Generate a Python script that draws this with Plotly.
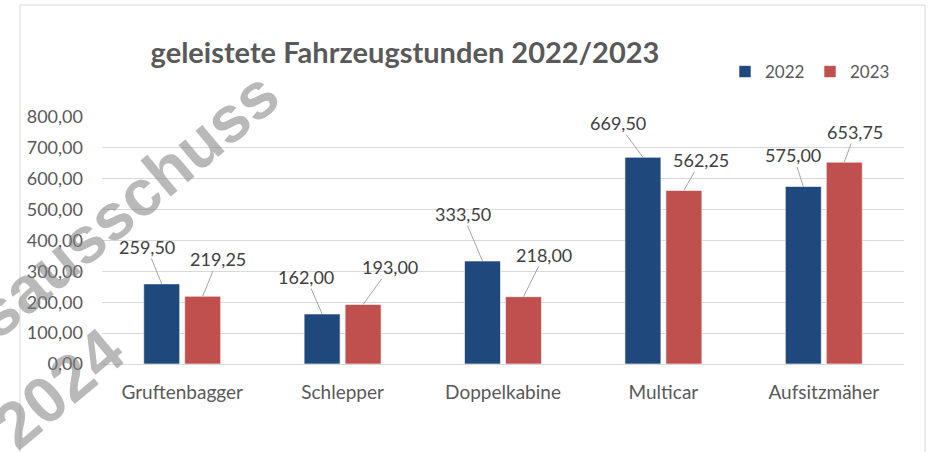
import plotly.graph_objects as go

categories = ["Gruftenbagger", "Schlepper", "Doppelkabine", "Multicar", "Aufsitzmäher"]
values_2022 = [259.50, 162.00, 333.50, 669.50, 575.00]
values_2023 = [219.25, 193.00, 218.00, 562.25, 653.75]
series_names = ["2022", "2023"]
y_ticks = [0, 100, 200, 300, 400, 500, 600, 700, 800]

# label offsets (pixels) for data labels with leader lines
offsets_2022 = [(-15, -37), (-16, -37), (-20, -47), (-25, -34), (-10, -31)]
offsets_2023 = [(15, -37), (27, -37), (21, -42), (17, -30), (11, -30)]

W, H = 932, 452
ML, MR, MT, MB = 102, 28, 117, 88
PW = W - ML - MR
PH = H - MT - MB

BLUE = "#1F497D"
RED = "#C0504D"
TXT = "#595959"
LBL = "#404040"
GRID = "#D9D9D9"
FONT = "Lato, 'Open Sans', sans-serif"

BARGAP = 0.489
GROUPGAP = 0.122

fig = go.Figure()
fig.add_trace(go.Bar(name=series_names[0], x=categories, y=values_2022,
                     marker=dict(color=BLUE, line=dict(color="white", width=0.6))))
fig.add_trace(go.Bar(name=series_names[1], x=categories, y=values_2023,
                     marker=dict(color=RED, line=dict(color="white", width=0.6))))


def de(v):
    return f"{v:.2f}".replace(".", ",")

slot = (1 - BARGAP) / 2
annotations = []
for k, (vals, offs) in enumerate([(values_2022, offsets_2022), (values_2023, offsets_2023)]):
    shift = (k - 0.5) * slot
    for i, v in enumerate(vals):
        annotations.append(dict(
            x=i + shift, y=v, xref="x", yref="y",
            text=de(v), showarrow=True, arrowhead=0, arrowwidth=1,
            arrowcolor="#A6A6A6", ax=offs[i][0], ay=offs[i][1],
            font=dict(family=FONT, size=18, color=LBL),
            borderpad=0, standoff=0,
        ))

# watermark
def px2paper(x, y):
    return (x - ML) / PW, (H - MB - y) / PH

for txt, (cx, cy) in [("sausschuss", (126, 204)), ("2024", (58, 388))]:
    px, py = px2paper(cx, cy)
    annotations.append(dict(
        x=px, y=py, xref="paper", yref="paper", text=txt, showarrow=False,
        textangle=-40, xanchor="center", yanchor="middle",
        font=dict(family="Liberation Sans, Arial, sans-serif", size=65,
                  color="rgba(128,128,128,0.55)", weight="bold"),
    ))

# chart border
bx0, by0 = px2paper(20, 5)
bx1, by1 = px2paper(925, 470)
shapes = [dict(type="rect", xref="paper", yref="paper", x0=bx0, y0=by1, x1=bx1, y1=by0,
               line=dict(color=GRID, width=1), fillcolor="rgba(0,0,0,0)", layer="below")]

fig.update_layout(
    width=W, height=H,
    margin=dict(l=ML, r=MR, t=MT, b=MB),
    paper_bgcolor="white", plot_bgcolor="white",
    separators=",.",
    barmode="group", bargap=BARGAP, bargroupgap=GROUPGAP,
    title=dict(text="<b>geleistete Fahrzeugstunden 2022/2023</b>",
               x=405 / W, xref="container", xanchor="center",
               y=1 - 53 / H, yref="container", yanchor="middle",
               font=dict(family=FONT, size=29, color=TXT)),
    legend=dict(orientation="h", x=(725 - ML) / PW, xanchor="left",
                y=(H - MB - 72) / PH, yanchor="middle",
                font=dict(family=FONT, size=17, color=TXT),
                entrywidth=40,
                bgcolor="rgba(0,0,0,0)"),
    annotations=annotations,
    shapes=shapes,
    showlegend=True,
)
fig.update_yaxes(range=[0, 800], tickvals=y_ticks, tickformat=".2f",
                 showgrid=True, gridcolor=GRID, gridwidth=1, zeroline=False,
                 showline=False, ticks="", ticklabelstandoff=18,
                 tickfont=dict(family=FONT, size=18, color=TXT))
fig.update_xaxes(showline=True, linecolor=GRID, linewidth=1, ticks="",
                 ticklabelstandoff=11,
                 tickfont=dict(family=FONT, size=19, color=TXT))

fig.write_html("out.html", config={"displayModeBar": False},
               post_script="document.body.style.margin='0';")
